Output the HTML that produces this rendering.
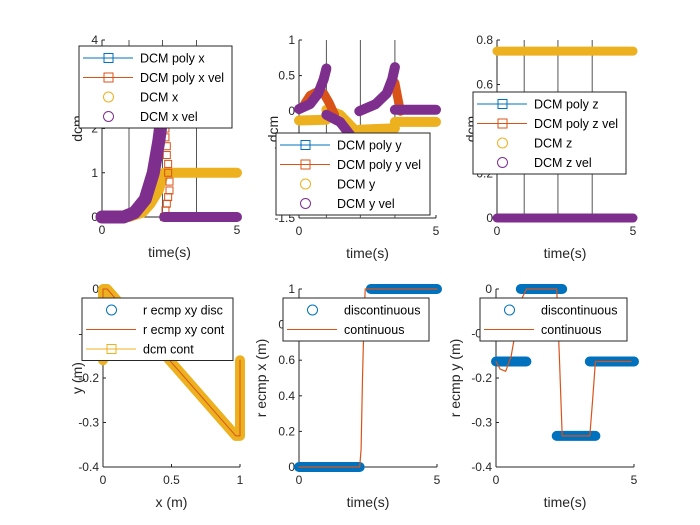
<!DOCTYPE html>
<html><head><meta charset="utf-8"><style>
html,body{margin:0;padding:0;background:#fff;}
svg{display:block;font-family:"Liberation Sans",sans-serif;}
</style></head><body>
<svg id="fig" width="700" height="525" viewBox="0 0 700 525"></svg>
<script>
// ---- data ----
const p1XvelT=[0,0.8,1.2,1.6,1.9,2.1,2.25];
const p1XvelV=[0,0,0.1,0.4,1.0,1.7,2.4];
const p1XvelT2=[2.3,5];
const p1XvelV2=[0,0];
const p1XT=[0,1,1.5,1.8,2.1,2.3,5];
const p1XV=[0,0,0.1,0.3,0.6,1,1];
const p1PolyVelT=[2.3,2.35,2.4,2.45,2.5,2.5,2.45,2.45,2.4,2.4,2.35,2.35,2.3,2.3,2.25,2.25];
const p1PolyVelV=[0,0.15,0.3,0.45,0.6,0.8,1.0,1.2,1.4,1.6,1.8,2.0,2.2,2.4,2.5,2.3];
const p2YvelSegT=[[0,0.4,0.7,0.9,1.0],[1.0,1.5,2.0],[2.2,2.8,3.2,3.4,3.5],[3.5,5]];
const p2YvelSegV=[[0.03,0.1,0.25,0.45,0.6],[-0.05,-0.15,-0.4],[0.0,0.1,0.25,0.45,0.62],[0.02,0.02]];
const p2YSegT=[[0,1.0],[1.0,1.5,2.0],[2.2,3.5],[3.5,5]];
const p2YSegV=[[-0.13,-0.12],[0.02,-0.05,-0.25],[-0.26,-0.24],[-0.15,-0.15]];
const p2PolyVelT=[[0.2,0.4,0.7,0.9,1.1,1.3],[3.5,3.6,3.7]];
const p2PolyVelV=[[0.1,0.22,0.28,0.25,0.12,-0.05],[0.4,0.2,0.0]];
const p3T=[0,5];
const p3Z=[0.75,0.75];
const p3Zvel=[0,0];
const p4DcmX=[0,0,0.03,0.97,1,1];
const p4DcmY=[-0.16,0,0,-0.33,-0.33,-0.16];
const p4DiscX=[0,0,1,1];
const p4DiscY=[0,-0.16,-0.16,-0.33];
const p5DiscT=[[0,2.2],[2.6,5]];
const p5DiscV=[[0,0],[1,1]];
const p5ContT=[0,2.2,2.25,2.3,2.35,2.4,5];
const p5ContV=[0,0,0.1,0.5,0.8,1,1];
const p6DiscT=[[0,1.1],[0.9,2.4],[2.2,3.6],[3.4,5]];
const p6DiscV=[[-0.163,-0.163],[0,0],[-0.33,-0.33],[-0.163,-0.163]];
const p6ContT=[0,0.15,0.35,0.55,0.75,0.95,1.1,2.2,2.3,2.4,3.4,3.5,3.6,4.9];
const p6ContV=[-0.163,-0.18,-0.185,-0.15,-0.08,-0.02,0,0,-0.16,-0.33,-0.33,-0.25,-0.163,-0.163];
const vlines=[1.0,2.24,3.5];

const BLUE="#0072BD",ORANGE="#D95319",YEL="#EDB120",PUR="#7E2F8E";
const svg=document.getElementById('fig');
const NS="http://www.w3.org/2000/svg";
function el(tag,attrs,parent,name,text){
  const e=document.createElementNS(NS,tag);
  for(const k in attrs)e.setAttribute(k,attrs[k]);
  
  
  if(text!==undefined)e.textContent=text;
  (parent||svg).appendChild(e);return e;
}
function mkAxes(o){
  const sx=v=>o.px0+(v-o.xmin)/(o.xmax-o.xmin)*(o.px1-o.px0);
  const sy=v=>o.py1-(v-o.ymin)/(o.ymax-o.ymin)*(o.py1-o.py0);
  const g=el('g',{},svg,o.name);
  return {o,sx,sy,g};
}
function band(ax,ts,vs,color,w,name){
  const pts=ts.map((t,i)=>ax.sx(t).toFixed(1)+","+ax.sy(vs[i]).toFixed(1)).join(" ");
  el('polyline',{points:pts,fill:"none",stroke:color,"stroke-width":w,"stroke-linecap":"round","stroke-linejoin":"round"},ax.g,name);
}
function squares(ax,ts,vs,color,name){
  ts.forEach((t,i)=>el('rect',{x:ax.sx(t)-3.5,y:ax.sy(vs[i])-3.5,width:7,height:7,fill:"none",stroke:color,"stroke-width":1},ax.g,name));
}
function axisDecor(ax,yt,ytl,xt,xtl,xlab,ylab,ylx){
  const o=ax.o,g=ax.g;
  el('line',{x1:o.px0,y1:o.py0,x2:o.px0,y2:o.py1,stroke:"#262626","stroke-width":1},g,'y-axis-line');
  el('line',{x1:o.px0,y1:o.py1,x2:o.px1,y2:o.py1,stroke:"#262626","stroke-width":1},g,'x-axis-line');
  yt.forEach((v,i)=>{const y=ax.sy(v);
    el('line',{x1:o.px0,y1:y,x2:o.px0+3,y2:y,stroke:"#262626"},g,'y-tick');
    el('text',{x:o.px0-4,y:y+4,"text-anchor":"end","font-size":12,fill:"#262626"},g,'y-tick-label',ytl[i]);});
  xt.forEach((v,i)=>{const x=ax.sx(v);
    el('line',{x1:x,y1:o.py1,x2:x,y2:o.py1-3,stroke:"#262626"},g,'x-tick');
    el('text',{x:x,y:o.py1+17,"text-anchor":"middle","font-size":12,fill:"#262626"},g,'x-tick-label',xtl[i]);});
  el('text',{x:(o.px0+o.px1)/2,y:o.py1+40,"text-anchor":"middle","font-size":14,fill:"#262626"},g,'x-axis-title',xlab);
  const cy=(o.py0+o.py1)/2;
  el('text',{x:ylx,y:cy,"text-anchor":"middle","font-size":14,fill:"#262626",transform:`rotate(-90 ${ylx} ${cy})`},g,'y-axis-title',ylab);
}
function vl(ax){vlines.forEach(t=>el('line',{x1:ax.sx(t),y1:ax.o.py0,x2:ax.sx(t),y2:ax.o.py1,stroke:"#555","stroke-width":1},ax.g,'event-line'));}
function legend(x,y,w,entries){
  const g=el('g',{},svg,'legend');
  const h=entries.length*19.5+4;
  el('rect',{x:x,y:y,width:w,height:h,fill:"#fff",stroke:"#262626","stroke-width":1},g,'legend-box');
  entries.forEach((e,i)=>{const cy=y+12+i*19.5;
    if(e.line)el('line',{x1:x+4,y1:cy,x2:x+54,y2:cy,stroke:e.c,"stroke-width":1},g,'legend-line');
    if(e.m==='s')el('rect',{x:x+25,y:cy-4.5,width:9,height:9,fill:"none",stroke:e.c},g,'legend-marker');
    if(e.m==='o')el('circle',{cx:x+29.5,cy:cy,r:5,fill:"none",stroke:e.c},g,'legend-marker');
    el('text',{x:x+61,y:cy+4.5,"font-size":12.5,fill:"#000"},g,'legend-entry',e.t);});
}
// subplot 1
const a1=mkAxes({name:'subplot-dcm-x',px0:102,px1:237,py0:40,py1:217,xmin:0,xmax:5,ymin:0,ymax:4});
axisDecor(a1,[0,1,2,3,4],["0","1","2","3","4"],[0,5],["0","5"],"time(s)","dcm",82);
vl(a1);
band(a1,p1XT,p1XV,YEL,10,'dcm-x');
squares(a1,p1PolyVelT,p1PolyVelV,ORANGE,'dcm-poly-x-vel');
band(a1,p1XvelT,p1XvelV,PUR,13,'dcm-x-vel');
band(a1,p1XvelT2,p1XvelV2,PUR,10,'dcm-x-vel');
// subplot 2
const a2=mkAxes({name:'subplot-dcm-y',px0:299,px1:436,py0:40,py1:218,xmin:0,xmax:5,ymin:-1.5,ymax:1});
axisDecor(a2,[-1.5,-1,-0.5,0,0.5,1],["-1.5","-1","-0.5","0","0.5","1"],[0,5],["0","5"],"time(s)","dcm",278);
vl(a2);
p2YSegT.forEach((t,i)=>band(a2,t,p2YSegV[i],YEL,10,'dcm-y'));
p2PolyVelT.forEach((t,i)=>band(a2,t,p2PolyVelV[i],ORANGE,9,'dcm-poly-y-vel'));
p2YvelSegT.forEach((t,i)=>band(a2,t,p2YvelSegV[i],PUR,10,'dcm-y-vel'));
// subplot 3
const a3=mkAxes({name:'subplot-dcm-z',px0:497,px1:633,py0:40,py1:218,xmin:0,xmax:5,ymin:0,ymax:0.8});
axisDecor(a3,[0,0.2,0.4,0.6,0.8],["0","0.2","0.4","0.6","0.8"],[0,5],["0","5"],"time(s)","dcm",476);
vl(a3);
band(a3,p3T,p3Z,YEL,9,'dcm-z');
band(a3,p3T,p3Zvel,PUR,9,'dcm-z-vel');
// subplot 4
const a4=mkAxes({name:'subplot-xy',px0:103,px1:240,py0:289,py1:467,xmin:0,xmax:1,ymin:-0.4,ymax:0});
axisDecor(a4,[-0.4,-0.3,-0.2,-0.1,0],["-0.4","-0.3","-0.2","-0.1","0"],[0,0.5,1],["0","0.5","1"],"x (m)","y (m)",82);
p4DiscX.forEach((x,i)=>el('circle',{cx:a4.sx(x),cy:a4.sy(p4DiscY[i]),r:4,fill:"none",stroke:BLUE},a4.g,'r-ecmp-xy-disc'));
band(a4,p4DcmX,p4DcmY,YEL,10,'dcm-cont');
band(a4,p4DcmX,p4DcmY,ORANGE,1,'r-ecmp-xy-cont');
// subplot 5
const a5=mkAxes({name:'subplot-recmp-x',px0:299,px1:437,py0:289,py1:467,xmin:0,xmax:5,ymin:0,ymax:1});
axisDecor(a5,[0,0.2,0.4,0.6,0.8,1],["0","0.2","0.4","0.6","0.8","1"],[0,5],["0","5"],"time(s)","r ecmp x (m)",266);
p5DiscT.forEach((t,i)=>band(a5,t,p5DiscV[i],BLUE,10,'discontinuous'));
band(a5,p5ContT,p5ContV,ORANGE,1.2,'continuous');
// subplot 6
const a6=mkAxes({name:'subplot-recmp-y',px0:496,px1:634,py0:289,py1:467,xmin:0,xmax:5,ymin:-0.4,ymax:0});
axisDecor(a6,[-0.4,-0.3,-0.2,-0.1,0],["-0.4","-0.3","-0.2","-0.1","0"],[0,5],["0","5"],"time(s)","r ecmp y (m)",460);
p6DiscT.forEach((t,i)=>band(a6,t,p6DiscV[i],BLUE,10,'discontinuous'));
band(a6,p6ContT,p6ContV,ORANGE,1.2,'continuous');
// legends
legend(79,46,153,[{t:"DCM poly x",c:BLUE,line:1,m:'s'},{t:"DCM poly x vel",c:ORANGE,line:1,m:'s'},{t:"DCM x",c:YEL,m:'o'},{t:"DCM x vel",c:PUR,m:'o'}]);
legend(276,133,154,[{t:"DCM poly y",c:BLUE,line:1,m:'s'},{t:"DCM poly y vel",c:ORANGE,line:1,m:'s'},{t:"DCM y",c:YEL,m:'o'},{t:"DCM y vel",c:PUR,m:'o'}]);
legend(473,92,153,[{t:"DCM poly z",c:BLUE,line:1,m:'s'},{t:"DCM poly z vel",c:ORANGE,line:1,m:'s'},{t:"DCM z",c:YEL,m:'o'},{t:"DCM z vel",c:PUR,m:'o'}]);
legend(82,298,151,[{t:"r ecmp xy disc",c:BLUE,m:'o'},{t:"r ecmp xy cont",c:ORANGE,line:1},{t:"dcm cont",c:YEL,line:1,m:'s'}]);
legend(283,298,146,[{t:"discontinuous",c:BLUE,m:'o'},{t:"continuous",c:ORANGE,line:1}]);
legend(480,298,147,[{t:"discontinuous",c:BLUE,m:'o'},{t:"continuous",c:ORANGE,line:1}]);
</script>
</body></html>
